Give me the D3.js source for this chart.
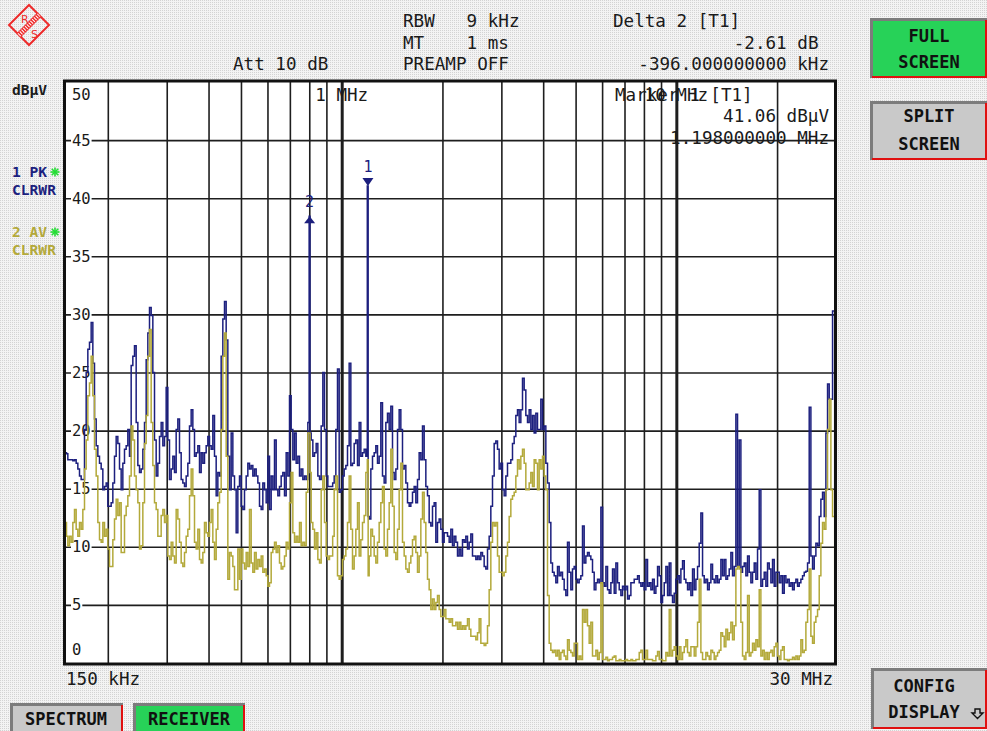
<!DOCTYPE html>
<html><head><meta charset="utf-8">
<script src="https://cdn.jsdelivr.net/npm/d3@7"></script>
<style>html,body{margin:0;padding:0;background:#ebebeb;overflow:hidden}text{white-space:pre}</style>
</head><body>
<svg id="c" width="987" height="731" xmlns="http://www.w3.org/2000/svg"></svg>
<script>
// ---------------- DATA ----------------
const sweepFreqMHz = [
0.150,0.15104,0.15278,0.15454,0.15633,0.15813,0.15995,0.16180,0.16367,0.16556,
0.16746,0.16939,0.17135,0.17333,0.17532,0.17734,0.17939,0.18146,0.18355,0.18567,
0.18781,0.18998,0.19217,0.19439,0.19663,0.19890,0.20119,0.20351,0.20586,0.20823,
0.21063,0.21306,0.21552,0.21801,0.22052,0.22306,0.22564,0.22824,0.23087,0.23353,
0.23623,0.23895,0.24171,0.24450,0.24732,0.25017,0.25306,0.25598,0.25893,0.26192,
0.26494,0.26800,0.27108,0.27421,0.27737,0.28057,0.28381,0.28708,0.29039,0.29374,
0.29713,0.30056,0.30402,0.30753,0.31108,0.31467,0.31829,0.32197,0.32568,0.32944,
0.33324,0.33708,0.34097,0.34490,0.34888,0.35290,0.35697,0.36109,0.36526,0.36947,
0.37373,0.37804,0.38240,0.38681,0.39127,0.39578,0.40035,0.40497,0.40964,0.41436,
0.41915,0.42398,0.42887,0.43382,0.43882,0.44388,0.44900,0.45418,0.45942,0.46472,
0.47008,0.47550,0.48099,0.48654,0.49215,0.49783,0.50357,0.50938,0.51525,0.52119,
0.52721,0.53329,0.53944,0.54566,0.55195,0.55832,0.56476,0.57127,0.57786,0.58453,
0.59127,0.59809,0.60499,0.61197,0.61903,0.62617,0.63339,0.64070,0.64809,0.65556,
0.66312,0.67077,0.67851,0.68634,0.69425,0.70226,0.71036,0.71855,0.72684,0.73523,
0.74371,0.75229,0.76096,0.76974,0.77862,0.78760,0.79668,
0.802,
0.80587,0.81517,0.82457,0.83408,0.84370,0.85344,0.86328,0.87324,0.88331,0.89350,0.90381,0.91423,0.92478,0.93544,
0.9440,0.9550,0.9659,0.9771,0.9884,0.9998,1.0113,1.0230,1.0347,1.0467,
1.0587,1.0709,1.0833,1.0958,1.1085,1.1212,1.1341,1.1472,1.1604,1.1739,
1.1874,
1.198,
1.2011,1.2150,1.2290,1.2431,1.2575,1.2720,1.2866,1.3014,1.3165,1.3317,
1.3470,1.3625,1.3783,1.3942,1.4103,1.4265,1.4430,1.4597,1.4765,1.4935,
1.5107,1.5281,1.5458,1.5636,1.5817,1.6000,1.6183,1.6370,1.6559,1.6749,
1.6943,1.7138,1.7337,1.7536,1.7739,1.7943,1.8150,1.8359,1.8571,1.8785,
1.9002,1.9221,1.9442,1.9667,1.9894,2.0123,2.0356,2.0590,2.0828,2.1068,
2.1311,2.1557,2.1805,2.2057,2.2312,2.2568,2.2829,2.3093,2.3358,2.3627,
2.3900,2.4176,2.4455,2.4737,2.5023,2.5310,2.5603,2.5898,2.6197,2.6499,
2.6804,2.7114,2.7427,2.7742,2.8063,2.8387,2.8714,2.9045,2.9381,2.9719,
3.0063,3.0408,3.0760,3.1114,3.1474,3.1836,3.2204,3.2575,3.2951,3.3330,
3.3715,3.4104,3.4498,3.4896,3.5299,3.5706,3.6117,3.6534,3.6955,3.7381,
3.7812,3.8248,3.8690,3.9136,3.9588,4.0044,4.0506,4.0974,4.1447,4.1924,
4.2408,4.2898,4.3392,4.3893,4.4399,4.4911,4.5429,4.5953,4.6483,4.7020,
4.7562,4.8111,4.8665,4.9227,4.9795,5.0369,5.0950,5.1537,5.2132,5.2734,
5.3342,5.3957,5.4579,5.5209,5.5846,5.6490,
5.716,5.782,5.848,5.916,5.984,6.053,6.123,6.194,6.265,6.337,
6.410,6.484,6.559,6.635,6.711,6.789,6.867,6.946,7.027,7.108,
7.189,7.273,7.356,7.441,7.527,7.614,7.701,7.790,7.880,7.971,
8.063,8.155,8.250,8.345,8.441,8.539,8.637,8.737,8.838,8.940,
9.043,9.147,9.253,9.359,9.467,9.577,9.687,9.798,9.912,10.026,
10.141,10.258,10.377,10.497,10.618,10.740,10.864,10.989,11.116,11.244,
11.374,11.505,11.637,11.772,11.908,12.045,12.184,12.325,12.467,12.611,
12.756,12.903,13.052,13.202,13.355,13.509,13.665,13.822,13.982,14.143,
14.306,14.471,14.638,14.807,14.978,15.150,15.325,15.502,15.680,15.861,
16.044,16.229,16.417,16.606,16.797,16.991,17.187,17.385,17.586,17.789,
17.994,18.201,18.412,18.624,18.839,19.056,19.276,19.498,19.723,19.950,
20.181,20.413,20.649,20.887,21.128,21.372,21.618,21.868,22.120,22.375,
22.633,22.894,23.159,23.425,23.696,23.969,24.245,24.526,24.808,25.094,
25.384,25.677,25.972,26.273,26.576,26.882,27.193,27.505,27.823,28.144,
28.468,28.797,29.129,29.465,
30.0
];

// Trace 1: PK (peak), dBµV
const pkLevel = [
18.1,18.0,17.5,17.5,17.5,17.4,17.5,17.2,16.7,16.1,
15.8,15.8,20.1,25.0,27.0,27.6,29.3,25.8,21.0,18.7,
17.8,17.2,16.7,14.9,15.2,15.5,13.5,13.5,13.8,15.5,
17.8,19.5,18.9,16.7,14.9,17.2,18.4,18.7,20.1,17.8,
25.6,26.4,27.3,20.7,17.0,16.4,16.7,18.4,20.7,26.1,
28.4,30.6,29.9,25.0,19.2,16.1,17.2,19.5,20.7,18.7,
19.5,23.7,19.2,15.8,16.7,17.8,16.4,20.1,21.0,18.1,
15.8,15.5,15.2,16.1,17.2,20.4,21.8,20.1,17.8,18.1,
18.7,16.4,18.1,17.2,18.1,18.7,19.5,18.7,18.4,21.3,
17.8,14.4,16.4,16.1,26.4,29.6,31.1,27.8,17.8,14.9,
19.8,16.1,14.9,11.2,15.2,16.1,13.5,13.2,14.9,16.1,
17.2,16.7,17.0,16.1,16.7,16.1,15.5,13.5,13.2,15.5,
14.9,13.8,17.8,13.2,16.1,14.9,19.2,14.9,14.4,15.2,
16.1,16.4,14.4,18.1,16.1,23.0,20.1,17.5,19.8,17.2,
17.8,16.1,16.7,15.8,16.1,15.8,20.7,
38.45,
19.8,19.2,17.8,18.1,18.9,16.1,15.8,20.4,25.0,20.1,16.1,15.2,15.2,15.2,
15.5,16.1,20.1,25.3,14.7,14.9,16.1,16.7,17.0,18.7,
25.8,17.0,17.2,18.9,19.2,17.0,20.7,17.8,18.1,18.4,
17.8,
41.06,
12.6,12.4,16.7,17.8,18.1,18.7,17.2,17.8,22.4,16.1,
15.5,20.7,21.5,20.1,22.1,16.4,15.8,16.7,20.1,21.8,
20.1,16.7,17.0,15.5,13.8,13.5,13.8,14.7,15.2,13.8,
15.8,18.1,17.5,20.4,17.5,15.2,14.4,12.1,11.8,13.5,
13.8,10.4,12.1,12.4,11.5,10.4,11.2,11.2,10.9,10.4,
11.5,10.1,10.9,10.4,9.2,9.8,9.2,10.6,10.4,10.9,
9.8,10.4,11.1,9.2,9.2,8.9,9.2,8.9,9.5,9.2,
8.3,8.1,9.8,10.9,13.5,16.1,18.9,19.1,18.4,16.7,
17.2,14.9,14.4,16.1,17.2,17.2,17.5,18.9,19.5,21.3,
21.8,20.7,21.8,24.5,23.5,21.3,20.7,21.8,20.1,21.3,
19.8,21.5,20.1,20.1,22.7,20.1,20.4,17.2,15.5,12.1,
8.6,7.8,7.5,6.9,8.3,7.5,7.8,7.2,6.3,5.8,
10.4,7.8,6.3,8.1,8.3,7.2,6.9,7.2,7.5,11.8,
8.6,9.2,9.5,9.2,8.9,7.8,
6.3,6.9,7.2,6.9,13.4,6.9,6.6,8.3,6.3,6.0,
6.9,8.1,6.0,8.6,6.9,6.3,5.8,6.6,6.3,6.6,
5.5,5.8,6.9,6.9,7.2,7.2,7.5,6.9,6.6,6.9,
6.3,8.9,6.6,6.9,6.3,7.2,6.0,6.6,8.3,7.5,
5.2,5.8,6.9,8.3,5.8,8.6,5.8,5.2,6.0,7.2,
7.5,6.9,8.1,8.8,7.2,6.9,6.3,6.9,5.8,8.1,
6.3,7.2,8.3,10.3,12.9,7.5,6.9,7.2,6.3,6.9,
8.5,7.2,6.9,7.5,6.9,7.2,8.9,7.5,8.9,7.2,
7.5,8.1,9.5,7.5,8.3,21.4,8.3,19.2,7.8,8.3,
8.6,7.5,9.2,7.8,6.9,7.8,8.6,7.2,9.8,14.9,
6.6,7.2,7.8,6.6,8.6,8.1,6.9,8.9,6.6,7.8,
7.8,6.9,7.5,6.0,7.5,6.9,7.2,6.6,6.9,6.3,
6.9,7.2,6.6,6.9,7.2,7.5,7.8,7.9,8.6,22.0,
9.2,8.1,9.2,10.3,10.1,12.6,14.1,14.7,12.6,19.8,
24.0,22.7,22.7,30.3,
12.9
];

// Trace 2: AV (average), dBµV
const avLevel = [
12.1,10.9,10.1,10.9,10.4,12.1,13.2,11.5,10.9,12.1,
11.5,13.2,16.7,19.2,23.0,24.1,26.4,23.0,18.4,16.1,
12.1,10.6,10.4,12.1,10.9,11.5,9.8,8.3,8.3,10.6,
12.4,14.1,12.7,13.8,9.5,9.5,12.7,13.5,14.4,16.1,
20.4,19.2,16.1,14.9,13.8,9.8,10.1,13.8,18.9,21.3,
26.4,28.7,20.7,17.0,13.8,13.2,10.9,10.9,12.7,13.2,
12.1,12.7,9.2,8.9,10.4,9.2,8.6,13.2,12.4,10.4,
8.6,8.3,9.5,10.9,11.5,14.4,16.7,14.4,10.4,9.8,
11.5,8.9,8.6,9.5,12.1,11.2,10.9,12.1,13.2,10.4,
8.9,11.5,13.8,14.7,20.1,26.4,28.4,17.8,7.2,9.5,
9.2,8.3,6.3,6.3,9.8,7.2,9.8,8.6,8.1,9.5,
8.3,13.2,8.6,7.8,9.5,8.1,8.9,8.3,9.2,7.8,
8.1,7.5,6.6,6.9,9.5,9.8,10.4,9.5,10.1,8.6,
8.1,8.3,9.2,10.4,9.8,13.8,16.4,11.2,10.4,10.9,
10.4,12.1,10.1,10.4,10.1,14.7,19.8,
19.8,
16.4,12.1,11.5,9.8,11.2,8.9,8.6,14.9,16.1,12.1,9.2,8.9,9.2,9.2,
10.9,14.9,16.1,7.5,7.2,7.5,8.9,9.2,9.8,12.1,
16.1,11.5,8.1,9.2,11.5,13.8,9.2,10.6,12.1,12.7,
16.4,
17.5,
7.5,9.2,11.5,10.9,9.2,8.6,10.4,12.1,13.8,15.2,
9.8,9.2,11.5,13.8,18.4,13.5,9.5,8.9,11.5,14.9,
17.2,10.4,9.2,8.1,7.8,8.6,9.2,10.6,10.9,9.5,
7.8,9.2,12.4,14.7,12.1,9.5,7.2,6.3,4.6,5.5,
4.6,5.2,5.8,4.6,4.0,4.0,4.6,3.8,3.8,3.5,
3.8,3.2,3.2,3.5,2.9,3.5,2.9,3.2,2.9,3.2,
3.8,2.9,2.3,2.3,2.3,2.0,2.6,3.8,1.7,1.7,
1.5,1.7,3.2,6.3,10.4,12.1,11.8,12.1,9.2,7.8,
7.8,7.5,7.8,9.2,10.4,12.6,14.1,14.4,14.7,16.1,
17.5,16.7,17.8,18.4,17.2,14.9,14.9,15.5,16.4,15.2,
17.5,17.2,14.9,17.5,16.7,17.8,16.1,14.9,5.8,1.7,
1.1,0.9,1.1,0.6,1.1,0.3,0.9,1.1,0.6,0.3,
2.0,1.1,0.9,0.6,1.7,1.7,0.3,0.6,0.3,4.6,
3.5,4.6,3.2,1.7,3.5,0.6,
0.6,1.1,0.3,0.9,6.9,0.3,0.3,0.5,0.2,0.3,
0.3,0.5,0.6,0.2,0.2,0.3,0.2,0.2,0.2,0.3,
0.2,0.2,0.3,0.2,0.2,0.3,0.3,0.9,1.1,0.3,
0.3,1.1,0.3,0.3,0.3,0.2,0.2,0.6,1.0,0.3,
0.3,0.2,0.2,0.9,0.6,4.6,0.6,1.1,1.4,0.6,
0.3,1.4,0.3,0.9,1.4,2.0,0.9,0.6,1.4,1.4,
0.6,1.4,3.5,7.2,0.9,0.3,0.3,0.9,0.6,0.3,
1.1,0.9,0.3,0.6,0.9,1.1,2.6,2.3,1.4,2.9,
2.0,2.6,3.5,2.0,3.2,8.1,8.3,8.1,3.5,0.6,
0.3,0.9,5.8,0.6,0.9,1.7,1.1,2.0,1.4,6.3,
0.6,1.1,0.3,0.9,0.3,0.9,1.1,0.6,1.4,1.7,
0.6,0.3,1.1,1.4,0.3,0.3,0.2,0.3,0.3,0.5,
0.3,0.6,0.3,0.6,2.0,0.9,1.1,3.5,4.6,8.1,
2.3,1.7,3.5,4.0,4.6,7.5,10.3,12.1,11.5,14.9,
20.1,22.7,14.9,12.6,
6.3
];

const freqRangeMHz = [0.15, 30];
const levelRange = [0, 50];
const levelTicks = [0, 5, 10, 15, 20, 25, 30, 35, 40, 45, 50];
const gridFreqsMHz = [0.2,0.3,0.4,0.5,0.6,0.7,0.8,0.9,1,2,3,4,5,6,7,8,9,10,20];
const decadeFreqsMHz = [1, 10];
const decadeLabels = ["1 MHz", "10 MHz"];
const markerFreqMHz = [1.198, 0.802];
const markerLevel = [41.06, 38.45];
const markerNames = ["1", "2"];
const headerLeft = ["RBW   9 kHz", "MT    1 ms", "PREAMP OFF"];
const headerRight = ["Delta 2 [T1]", "-2.61 dB", "-396.000000000 kHz"];
const markerInfo = ["Marker 1 [T1]", "41.06 dBµV", "1.198000000 MHz"];

// ---------------- DRAW ----------------
const svg = d3.select("#c");
const MONO = "'DejaVu Sans Mono', 'Liberation Mono', monospace";
const PK_COL = "#1c1f7e", AV_COL = "#b3a93a", TXT = "#1a1a1a";

const defs = svg.append("defs");
const pat = defs.append("pattern").attr("id", "dots").attr("width", 2).attr("height", 2).attr("patternUnits", "userSpaceOnUse");
pat.append("rect").attr("width", 2).attr("height", 2).attr("fill", "#f3f3f3");
pat.append("rect").attr("width", 1).attr("height", 1).attr("fill", "#d3d3d3");
defs.append("clipPath").attr("id", "plotclip").append("rect").attr("x", 66).attr("y", 82).attr("width", 770).attr("height", 581);

svg.append("rect").attr("width", 987).attr("height", 731).attr("fill", "url(#dots)");

// R&S logo
const logo = svg.append("g");
logo.append("polygon").attr("points", "29,5 49,25 29,45 9,25").attr("fill", "none").attr("stroke", "#ee2a2a").attr("stroke-width", 2);
logo.append("line").attr("x1", 19).attr("y1", 35).attr("x2", 39).attr("y2", 15).attr("stroke", "#ee2a2a").attr("stroke-width", 6);
logo.append("line").attr("x1", 19).attr("y1", 35).attr("x2", 39).attr("y2", 15).attr("stroke", "#fff").attr("stroke-width", 4).attr("stroke-dasharray", "1,1.5");
logo.append("text").attr("x", 21).attr("y", 23).attr("font-family", "'DejaVu Sans', sans-serif").attr("font-size", 11).attr("fill", "#ee2a2a").text("R");
logo.append("text").attr("x", 31).attr("y", 38).attr("font-family", "'DejaVu Sans', sans-serif").attr("font-size", 11).attr("fill", "#ee2a2a").text("S");

// Header text
const hdr = svg.append("g").attr("font-family", MONO).attr("font-size", 17.6).attr("fill", TXT);
const hdrBase = [27, 49, 70];
headerLeft.forEach((t, i) => hdr.append("text").attr("x", 403).attr("y", hdrBase[i]).text(t));
hdr.append("text").attr("x", 233).attr("y", 70).text("Att 10 dB");
hdr.append("text").attr("x", 613).attr("y", 27).text(headerRight[0]);
hdr.append("text").attr("x", 818.5).attr("y", 49).attr("text-anchor", "end").text(headerRight[1]);
hdr.append("text").attr("x", 829).attr("y", 70).attr("text-anchor", "end").text(headerRight[2]);

// Left side labels
const side = svg.append("g").attr("font-family", MONO).attr("font-weight", "bold").attr("font-size", 14.6);
side.append("text").attr("x", 12).attr("y", 95).attr("fill", TXT).text("dBµV");
side.append("text").attr("x", 12).attr("y", 177).attr("fill", PK_COL).text("1 PK");
side.append("text").attr("x", 12).attr("y", 195).attr("fill", PK_COL).text("CLRWR");
side.append("text").attr("x", 12).attr("y", 237).attr("fill", AV_COL).text("2 AV");
side.append("text").attr("x", 12).attr("y", 255).attr("fill", AV_COL).text("CLRWR");
[[55, 172], [55, 232]].forEach(([cx, cy]) => {
  const s = svg.append("g").attr("stroke", "#22dd33").attr("stroke-width", 1.6);
  [[0, -4.5, 0, 4.5], [-4.5, 0, 4.5, 0], [-3.3, -3.3, 3.3, 3.3], [-3.3, 3.3, 3.3, -3.3]].forEach(l =>
    s.append("line").attr("x1", cx + l[0]).attr("y1", cy + l[1]).attr("x2", cx + l[2]).attr("y2", cy + l[3]));
});

// Scales
const x = d3.scaleLog().domain(freqRangeMHz).range([66, 836]);
const y = d3.scaleLinear().domain(levelRange).range([663, 82]);

svg.append("rect").attr("x", 66).attr("y", 82).attr("width", 770).attr("height", 581).attr("fill", "#fff");

// Grid via axes
const gx = svg.append("g").attr("transform", "translate(0,663)")
  .call(d3.axisBottom(x).tickValues(gridFreqsMHz).tickSize(-581).tickFormat(""));
gx.select(".domain").remove();
gx.selectAll(".tick line").attr("stroke", "#1e1e1e").attr("stroke-width", d => decadeFreqsMHz.includes(d) ? 3 : 1.6);

const gy = svg.append("g").attr("transform", "translate(66,0)")
  .call(d3.axisLeft(y).tickValues(levelTicks.filter(v => v > 0 && v < 50)).tickSize(-770).tickFormat(""));
gy.select(".domain").remove();
gy.selectAll(".tick line").attr("stroke", "#1e1e1e").attr("stroke-width", 1.6);

// Y labels
const yl = svg.append("g").attr("font-family", MONO).attr("font-size", 15.5).attr("fill", TXT);
levelTicks.forEach(v => {
  let base = y(v) + 5.5;
  if (v === 50) base = y(v) + 18;
  if (v === 0) base = y(v) - 8;
  const w = String(v).length * 9.3 + 2;
  if (v > 0 && v < 50) yl.append("rect").attr("x", 71).attr("y", y(v) - 6).attr("width", w).attr("height", 12).attr("fill", "#fff");
  yl.append("text").attr("x", 72).attr("y", base).text(v);
});

// Decade labels and marker info
const inf = svg.append("g").attr("font-family", MONO).attr("font-size", 17.6).attr("fill", TXT);
decadeFreqsMHz.forEach((f, i) => inf.append("text").attr("x", x(f)).attr("y", 101).attr("text-anchor", "middle").text(decadeLabels[i]));
inf.append("text").attr("x", 615).attr("y", 101).text(markerInfo[0]);
inf.append("text").attr("x", 829).attr("y", 122).attr("text-anchor", "end").text(markerInfo[1]);
inf.append("text").attr("x", 829).attr("y", 144).attr("text-anchor", "end").text(markerInfo[2]);

// Traces
const pkData = sweepFreqMHz.map((f, i) => ({ f, v: pkLevel[i] }));
const avData = sweepFreqMHz.map((f, i) => ({ f, v: avLevel[i] }));
const line = d3.line().x(d => x(d.f)).y(d => y(d.v)).curve(d3.curveStep);
const tr = svg.append("g").attr("clip-path", "url(#plotclip)");
tr.append("path").datum(pkData).attr("d", line).attr("fill", "none").attr("stroke", PK_COL).attr("stroke-width", 1.5);
tr.append("path").datum(avData).attr("d", line).attr("fill", "none").attr("stroke", AV_COL).attr("stroke-width", 1.5);

// Markers
const mk = svg.append("g").attr("fill", PK_COL).attr("font-family", MONO).attr("font-size", 15);
markerFreqMHz.forEach((f, i) => {
  const mx = x(f), my = y(markerLevel[i]);
  if (i === 0) {
    mk.append("polygon").attr("points", `${mx - 5.5},${my - 8} ${mx + 5.5},${my - 8} ${mx},${my}`);
    mk.append("text").attr("x", mx).attr("y", my - 14).attr("text-anchor", "middle").text(markerNames[i]);
  } else {
    mk.append("polygon").attr("points", `${mx - 5.5},${my + 7} ${mx + 5.5},${my + 7} ${mx},${my}`);
    mk.append("text").attr("x", mx).attr("y", my - 9).attr("text-anchor", "middle").text(markerNames[i]);
  }
});

// Border
svg.append("rect").attr("x", 64.5).attr("y", 81).attr("width", 771).attr("height", 583)
  .attr("fill", "none").attr("stroke", "#111").attr("stroke-width", 3);

// Frequency span labels
const fl = svg.append("g").attr("font-family", MONO).attr("font-size", 17.6).attr("fill", TXT);
fl.append("text").attr("x", 66).attr("y", 685).text("150 kHz");
fl.append("text").attr("x", 833).attr("y", 685).attr("text-anchor", "end").text("30 MHz");

// Buttons
function button(bx, by, bw, bh, fill, lines, bases, cx) {
  const g = svg.append("g");
  g.append("rect").attr("x", bx).attr("y", by).attr("width", bw).attr("height", bh).attr("fill", fill);
  g.append("rect").attr("x", bx).attr("y", by).attr("width", bw).attr("height", 3).attr("fill", "#7c7c7c");
  g.append("rect").attr("x", bx).attr("y", by).attr("width", 3).attr("height", bh).attr("fill", "#7c7c7c");
  g.append("rect").attr("x", bx + bw - 2).attr("y", by + 2).attr("width", 2).attr("height", bh - 2).attr("fill", "#e01010");
  g.append("rect").attr("x", bx + 2).attr("y", by + bh - 2).attr("width", bw - 2).attr("height", 2).attr("fill", "#e01010");
  lines.forEach((t, i) => g.append("text").attr("x", cx).attr("y", bases[i]).attr("text-anchor", "middle")
    .attr("font-family", MONO).attr("font-weight", "bold").attr("font-size", 17).attr("fill", "#111").text(t));
  return g;
}
const GREEN = "#27d258", GREY = "#c9c9c9";
button(870, 18, 117, 60, GREEN, ["FULL", "SCREEN"], [42, 68], 929);
button(870, 101, 117, 59, GREY, ["SPLIT", "SCREEN"], [122, 150], 929);
button(871, 668, 116, 61, GREY, ["CONFIG", "DISPLAY"], [692, 718], 924);
button(10, 703, 113, 32, GREY, ["SPECTRUM"], [725], 66);
button(133, 703, 112, 32, GREEN, ["RECEIVER"], [725], 189);
// down arrow on CONFIG DISPLAY
svg.append("path").attr("d", "M975,709 h5 v4 h3 l-5.5,5.5 l-5.5,-5.5 h3 z").attr("fill", "none").attr("stroke", "#111").attr("stroke-width", 1.4);
</script>
</body></html>
